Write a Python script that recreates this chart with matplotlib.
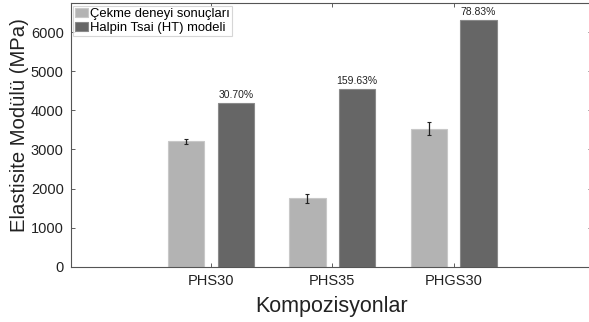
import matplotlib
matplotlib.use("Agg")
import matplotlib.pyplot as plt
import numpy as np

plt.rcParams["font.family"] = ["Liberation Sans", "DejaVu Sans"]

categories = ["PHS30", "PHS35", "PHGS30"]
experimental = [3205, 1755, 3530]
experimental_err = [55, 115, 160]
halpin_tsai = [4185, 4545, 6310]
percent_labels = ["30.70%", "159.63%", "78.83%"]

W, H = 589, 322
fig = plt.figure(figsize=(W / 100, H / 100), dpi=100)
ax = fig.add_axes([70.7 / W, (H - 266.7) / H, (592 - 70.7) / W, (266.7 - 3.3) / H])

x = np.arange(1, len(categories) + 1)
bw = 0.30
off = 0.205
ax.bar(x - off, experimental, bw, color="#b3b3b3", edgecolor="#c8c8c8", linewidth=0.8,
       label="Çekme deneyi sonuçları", zorder=2)
ax.errorbar(x - off, experimental, yerr=experimental_err, fmt="none", ecolor="#222222",
            elinewidth=0.9, capsize=1.5, capthick=0.8, zorder=3)
ax.bar(x + off, halpin_tsai, bw, color="#666666", edgecolor="#8a8a8a", linewidth=0.8,
       label="Halpin Tsai (HT) modeli", zorder=2)
for xi, v, t in zip(x + off, halpin_tsai, percent_labels):
    ax.text(xi, v + 80, t, ha="center", va="bottom", fontsize=7.5, color="#222222")

ax.set_xlim(-0.155, 4.14)
ax.set_ylim(0, 6740)
ax.set_xticks(x)
ax.set_xticklabels(categories, fontsize=10.5, color="#222222")
ax.set_yticks(np.arange(0, 6001, 1000))
ax.tick_params(axis="y", labelsize=10.5, labelcolor="#222222")
ax.tick_params(direction="in", top=True, right=True, length=3, width=0.6, color="#444444",
               pad=5)
for s in ax.spines.values():
    s.set_color("#555555")
    s.set_linewidth(0.8)
ax.set_ylabel("Elastisite Modülü (MPa)", fontsize=14.6, color="#222222")
ax.yaxis.set_label_coords(-0.080, 0.538)
ax.set_xlabel("Kompozisyonlar", fontsize=15.5, color="#222222", labelpad=6)

leg = ax.legend(loc="upper left", fontsize=9.4, frameon=True, fancybox=False,
                edgecolor="#cccccc", borderpad=0.15, handlelength=0.95, handleheight=0.65,
                handletextpad=0.2, labelspacing=0.15, borderaxespad=0.2)
leg.get_frame().set_linewidth(0.8)

fig.savefig("out.png", dpi=100)
